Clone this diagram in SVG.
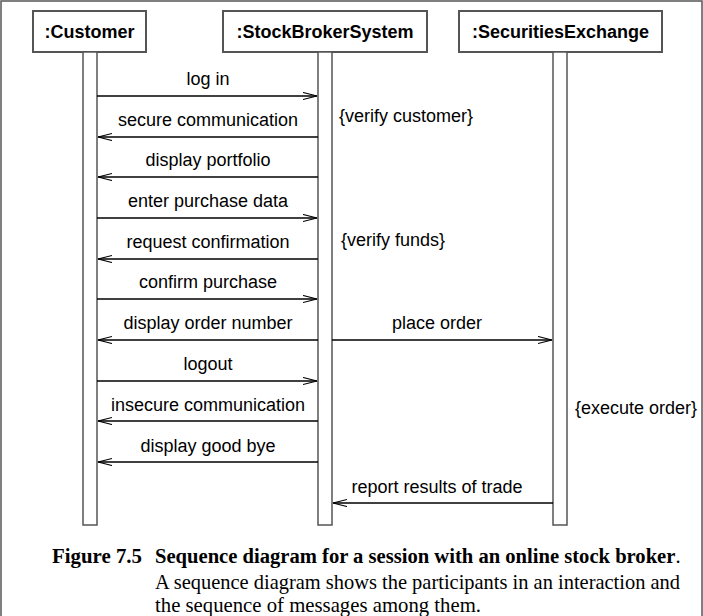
<svg xmlns="http://www.w3.org/2000/svg" width="703" height="616" viewBox="0 0 703 616">
<defs>
<marker id="open" markerWidth="16" markerHeight="10" refX="14" refY="4" orient="auto" markerUnits="userSpaceOnUse">
<path d="M0,0.5 L14,4 L0,7.5" fill="none" stroke="#000" stroke-width="1.2"/>
</marker>
<style>
.head{fill:#fff;stroke:#555;stroke-width:2}
.bar{fill:#fff;stroke:#555;stroke-width:1.5}
.ht{font-family:"Liberation Sans",Arial,sans-serif;font-size:18px;font-weight:bold;text-anchor:middle;fill:#000}
.lbl{font-family:"Liberation Sans",Arial,sans-serif;font-size:18px;text-anchor:middle;fill:#000}
.note{font-family:"Liberation Sans",Arial,sans-serif;font-size:18px;fill:#000}
.msg{stroke:#000;stroke-width:1.3;fill:none;marker-end:url(#open)}
.cap{font-family:"Liberation Serif","Times New Roman",serif;font-size:21px;fill:#000}
</style>
</defs>
<rect x="1" y="1" width="701" height="630" fill="#fff" stroke="#555" stroke-width="1.5"/>
<g id="customer">
<rect class="head" x="33" y="11" width="113" height="41"/>
<text class="ht" x="89.5" y="38">:Customer</text>
<rect class="bar" x="83" y="52" width="14" height="473"/>
</g>
<g id="broker">
<rect class="head" x="223" y="11" width="204" height="41"/>
<text class="ht" x="325" y="38">:StockBrokerSystem</text>
<rect class="bar" x="318" y="52" width="14" height="473"/>
</g>
<g id="exchange">
<rect class="head" x="459" y="11" width="203" height="41"/>
<text class="ht" x="560.5" y="38">:SecuritiesExchange</text>
<rect class="bar" x="553" y="52" width="14" height="473"/>
</g>
<g id="connectors">
<line class="msg" x1="97" y1="96" x2="317" y2="96"/>
<text class="lbl" x="208" y="85">log in</text>
<line class="msg" x1="318" y1="137" x2="98" y2="137"/>
<text class="lbl" x="208" y="126">secure communication</text>
<line class="msg" x1="318" y1="177" x2="98" y2="177"/>
<text class="lbl" x="208" y="166">display portfolio</text>
<line class="msg" x1="97" y1="218" x2="317" y2="218"/>
<text class="lbl" x="208" y="207">enter purchase data</text>
<line class="msg" x1="318" y1="259" x2="98" y2="259"/>
<text class="lbl" x="208" y="248">request confirmation</text>
<line class="msg" x1="97" y1="299" x2="317" y2="299"/>
<text class="lbl" x="208" y="288">confirm purchase</text>
<line class="msg" x1="318" y1="340" x2="98" y2="340"/>
<text class="lbl" x="208" y="329">display order number</text>
<line class="msg" x1="332" y1="340" x2="552" y2="340"/>
<text class="lbl" x="437" y="329">place order</text>
<line class="msg" x1="97" y1="381" x2="317" y2="381"/>
<text class="lbl" x="208" y="370">logout</text>
<line class="msg" x1="318" y1="421" x2="98" y2="421"/>
<text class="lbl" x="208" y="411">insecure communication</text>
<line class="msg" x1="318" y1="462" x2="98" y2="462"/>
<text class="lbl" x="208" y="452">display good bye</text>
<line class="msg" x1="553" y1="503" x2="333" y2="503"/>
<text class="lbl" x="437" y="493">report results of trade</text>
</g>
<text class="note" x="339" y="122">{verify customer}</text>
<text class="note" x="341" y="246">{verify funds}</text>
<text class="note" x="575" y="414">{execute order}</text>
<text class="cap" x="52" y="563" font-weight="bold" textLength="90" lengthAdjust="spacingAndGlyphs">Figure 7.5</text>
<text class="cap" x="155" y="563" style="font-size:20.6px"><tspan font-weight="bold">Sequence diagram for a session with an online stock broker</tspan>.</text>
<text class="cap" x="155" y="589" textLength="525" lengthAdjust="spacingAndGlyphs">A sequence diagram shows the participants in an interaction and</text>
<text class="cap" x="155" y="612" textLength="326" lengthAdjust="spacingAndGlyphs">the sequence of messages among them.</text>
</svg>
